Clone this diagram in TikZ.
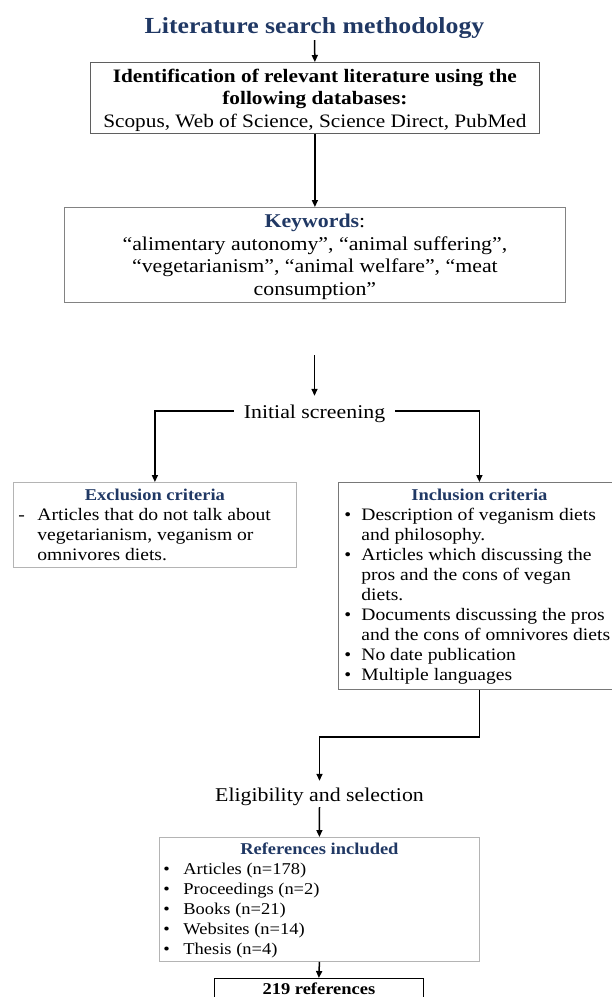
\documentclass[tikz,border=0pt]{standalone}
\usepackage{fontspec}
\setmainfont{Liberation Serif}[FakeStretch=1.12]
\usetikzlibrary{arrows.meta}
\definecolor{navy}{RGB}{32,56,100}
\definecolor{edgeA}{RGB}{95,95,95}
\definecolor{edgeB}{RGB}{130,130,130}
\definecolor{edgeC}{RGB}{180,180,180}
\definecolor{edgeD}{RGB}{120,120,120}
\newcommand\bul[2]{\mbox{\hspace*{#1}\makebox[#2][l]{•}}}
\newcommand\rline[1]{\mbox{#1}\par}
\begin{document}
\begin{tikzpicture}[x=1pt,y=-1pt,
  conn/.style={line width=1.5pt,-{Triangle[length=7pt,width=6pt]}},
  box/.style={draw,line width=0.8pt,inner sep=0pt,anchor=north west},
  label/.style={anchor=base,font=\fontsize{19.5}{22}\selectfont,text height=14pt,text depth=0pt,inner xsep=10pt}]
\useasboundingbox (0,0) rectangle (612,997);

\node[anchor=base,text=navy,font=\fontsize{23}{27}\selectfont\bfseries,text depth=0pt,inner ysep=7pt] (title) at (314.5,33) {Literature search methodology};

\node[box,draw=edgeA] (b1) at (90,62) {\parbox[c][71pt][t]{449pt}{\centering\fontsize{19}{22.5}\selectfont\lineskiplimit=-20pt
\rule{0pt}{20pt}\textbf{Identification of relevant literature using the}\\
\textbf{following databases:}\\
Scopus, Web of Science, Science Direct, PubMed}};

\node[box,draw=edgeB] (b2) at (64,207) {\parbox[c][95pt][t]{501pt}{\centering\fontsize{19.5}{22.7}\selectfont\lineskiplimit=-20pt
\rule{0pt}{20pt}{\color{navy}\textbf{Keywords}}:\\
“alimentary autonomy”, “animal suffering”,\\
“vegetarianism”, “animal welfare”, “meat\\
consumption”}};

\node[label,inner ysep=8pt] (init) at (314.5,418) {Initial screening};
\coordinate (gap) at (init.north |- 0,355);

\node[box,draw=edgeC] (excl) at (13,482) {\parbox[c][85pt][t]{283pt}{\fontsize{17.5}{20}\selectfont\lineskiplimit=-20pt
{\centering\rule{0pt}{18pt}{\fontsize{16.5}{20}\selectfont\color{navy}\textbf{Exclusion criteria}}\par}
\raggedright
\rline{\hspace*{5pt}\makebox[19pt][l]{-}Articles that do not talk about}
\rline{\hspace*{24pt}vegetarianism, veganism or}
\rline{\hspace*{24pt}omnivores diets.}}};

\node[box,draw=edgeD] (incl) at (338,482) {\parbox[c][207pt][t]{282pt}{\fontsize{17.5}{20}\selectfont\lineskiplimit=-20pt
{\centering\rule{0pt}{18pt}{\fontsize{16.5}{20}\selectfont\color{navy}\textbf{Inclusion criteria}}\par}
\raggedright
\rline{\bul{6pt}{17pt}Description of veganism diets}
\rline{\hspace*{23pt}and philosophy.}
\rline{\bul{6pt}{17pt}Articles which discussing the}
\rline{\hspace*{23pt}pros and the cons of vegan}
\rline{\hspace*{23pt}diets.}
\rline{\bul{6pt}{17pt}Documents discussing the pros}
\rline{\hspace*{23pt}and the cons of omnivores diets}
\rline{\bul{6pt}{17pt}No date publication}
\rline{\bul{6pt}{17pt}Multiple languages}}};

\node[label,inner ysep=6pt] (elig) at (319.5,801) {Eligibility and selection};

\node[box,draw=edgeC] (ref) at (159,837) {\parbox[c][124pt][t]{320pt}{\fontsize{16.5}{20}\selectfont\lineskiplimit=-20pt
{\centering\rule{0pt}{17pt}{\color{navy}\textbf{References included}}\par}
\raggedright
\rline{\bul{4pt}{20pt}Articles (n=178)}
\rline{\bul{4pt}{20pt}Proceedings (n=2)}
\rline{\bul{4pt}{20pt}Books (n=21)}
\rline{\bul{4pt}{20pt}Websites (n=14)}
\rline{\bul{4pt}{20pt}Thesis (n=4)}}};

\node[box,draw=black] (fin) at (214,978) {\parbox[c][40pt][t]{209pt}{\centering\fontsize{16.5}{20}\selectfont
\rule{0pt}{16pt}\textbf{219 references}}};

\draw[conn] (title.south) -- (b1.north);
\draw[conn] (b1.south) -- (b2.north);
\draw[conn] (gap) -- (init.north);
\draw[conn] (init.west) -| (excl.north);
\draw[conn] (init.east) -| (incl.north);
\draw[conn] (incl.south) -- ++(0,47) -| (elig.north);
\draw[conn] (elig.south) -- (ref.north);
\draw[conn] (ref.south) -- (fin.north);
\end{tikzpicture}
\end{document}
